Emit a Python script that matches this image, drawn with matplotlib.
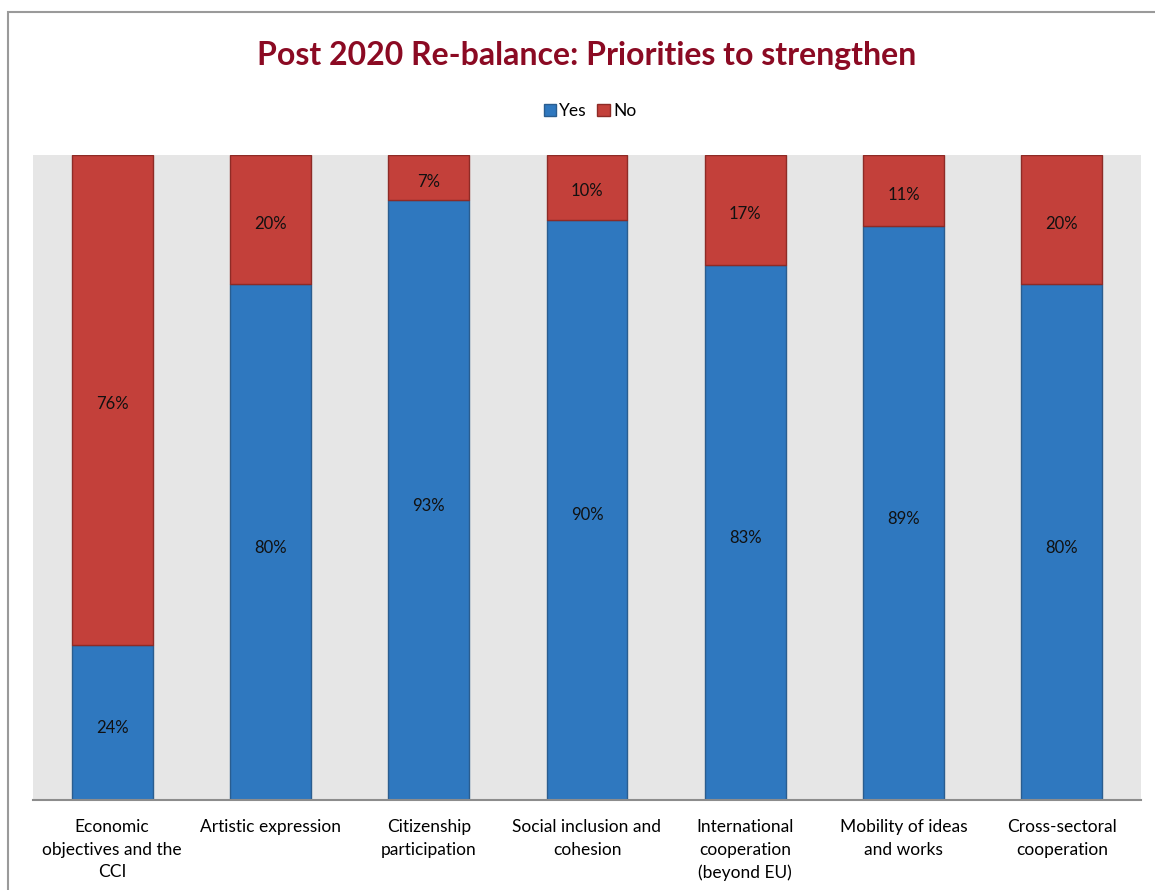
import matplotlib
matplotlib.use('Agg')
import matplotlib.pyplot as plt
import matplotlib.patches as mpatches
import numpy as np

plt.rcParams['font.family'] = ['Lato', 'DejaVu Sans']

categories = ['Economic\nobjectives and the\nCCI', 'Artistic expression',
              'Citizenship\nparticipation', 'Social inclusion and\ncohesion',
              'International\ncooperation\n(beyond EU)', 'Mobility of ideas\nand works',
              'Cross-sectoral\ncooperation']
yes = [24, 80, 93, 90, 83, 89, 80]
no = [76, 20, 7, 10, 17, 11, 20]

blue = '#2F78BF'
red = '#C3403A'

fig = plt.figure(figsize=(11.55, 8.9), dpi=100)
ax = fig.add_axes([33/1155, 1-800/890, (1141-33)/1155, (800-155)/890])
ax.set_facecolor('#E6E6E6')

# outer chart frame (runs off the right and bottom edges)
fig.patches.append(mpatches.Rectangle((8/1155, -0.05), 1.2, 1-12/890+0.05,
                                      transform=fig.transFigure, fill=False,
                                      edgecolor='#9A9A9A', linewidth=1.5))

x = np.arange(len(categories))
b1 = ax.bar(x, yes, width=0.51, color=blue, edgecolor='#2A5D8F', linewidth=1, label='Yes')
b2 = ax.bar(x, no, width=0.51, bottom=yes, color=red, edgecolor='#8E2B26', linewidth=1, label='No')

# value labels sit a touch below the segment middle
for i in range(len(categories)):
    ax.annotate(f'{yes[i]}%', (x[i], yes[i] / 2), xytext=(0, -4), textcoords='offset points',
                ha='center', va='center', fontsize=12, color='#111111')
    ax.annotate(f'{no[i]}%', (x[i], yes[i] + no[i] / 2), xytext=(0, -3), textcoords='offset points',
                ha='center', va='center', fontsize=12, color='#111111')

ax.set_xlim(-0.5, len(categories) - 0.5)
ax.set_ylim(0, 100)
ax.set_yticks([])
ax.set_xticks(x)
ax.set_xticklabels(categories, fontsize=12.5, linespacing=1.5)
ax.tick_params(axis='x', length=0, pad=14)
for s in ['top', 'left', 'right']:
    ax.spines[s].set_visible(False)
ax.spines['bottom'].set_color('#8C8C8C')
ax.spines['bottom'].set_linewidth(1.5)

fig.text(587/1155, 1-55/890, 'Post 2020 Re-balance: Priorities to strengthen',
         ha='center', va='center', fontsize=23, fontweight='bold', color='#8B0A23')

fig.legend(handles=[b1, b2], labels=['Yes', 'No'], loc='center', bbox_to_anchor=(590/1155, 1-111/890),
           ncol=2, frameon=False, fontsize=12.5, handlelength=0.7, handleheight=0.7,
           handletextpad=0.2, columnspacing=0.6)

fig.savefig('out.png', dpi=100)
